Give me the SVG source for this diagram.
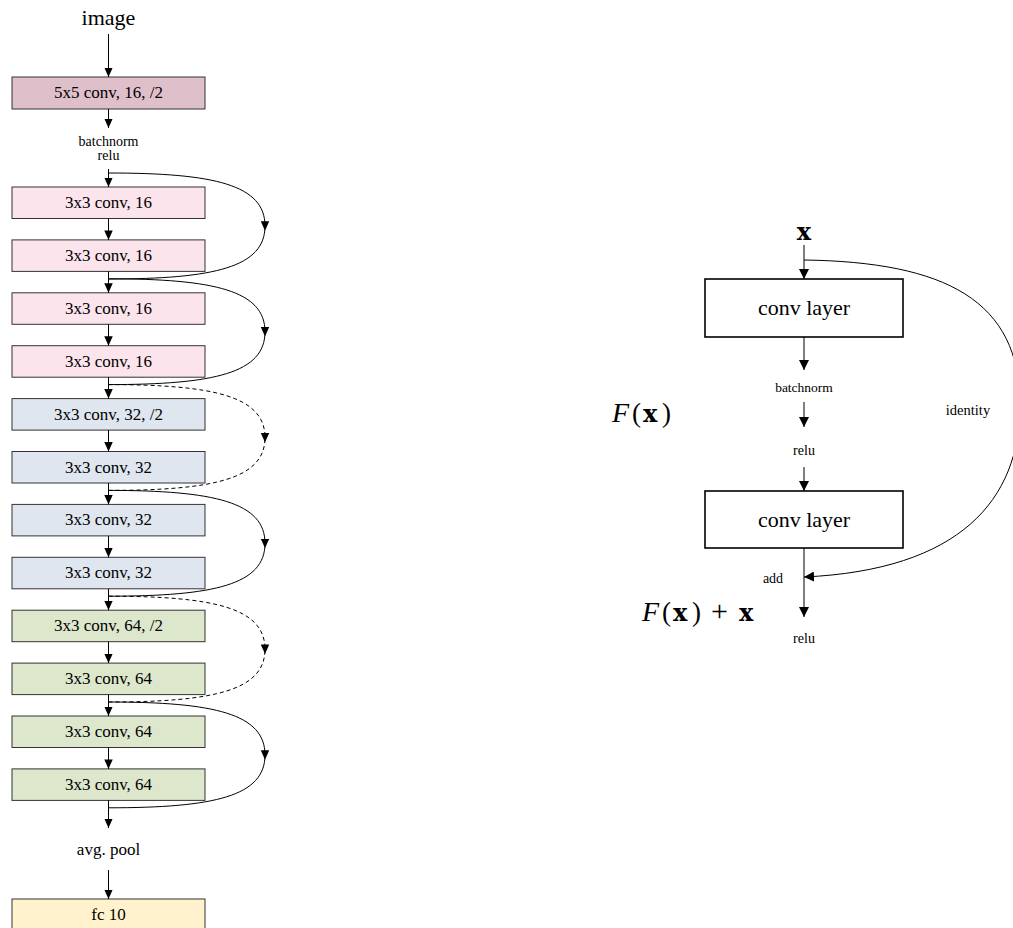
<svg xmlns="http://www.w3.org/2000/svg" width="1013" height="928" viewBox="0 0 1013 928">
  <style>
    .lbl { font-family: "Liberation Serif", "Times New Roman", serif; fill: #000; text-anchor: middle; }
    .box { stroke: #333; stroke-width: 1; }
    .c5 { fill: #dfbfca; }
    .pk { fill: #fbe4ec; }
    .bl { fill: #dfe6ef; }
    .gr { fill: #dce7cc; }
    .yl { fill: #fff2cc; }
    .ln { fill: none; stroke: #000; stroke-width: 1; }
    .arr { marker-end: url(#ah); }
    .skip { fill: none; stroke: #000; stroke-width: 1; marker-mid: url(#ahm); }
    .dash { stroke-dasharray: 4 3; }
    .rbox { fill: #fff; stroke: #000; stroke-width: 1.6; }
    .rarr { marker-end: url(#ahr); }
    .math { font-family: "Liberation Serif", "Times New Roman", serif; font-size: 27px; fill: #000; }
    .it { font-style: italic; font-size: 28px; }
    .mb { font-family: "DejaVu Serif", serif; font-weight: bold; font-size: 24px; }
    .op { font-size: 30px; }
  </style>
  <defs>
    <marker id="ah" viewBox="0 0 10 10" refX="10" refY="5" markerWidth="9.5" markerHeight="8.5" markerUnits="userSpaceOnUse" orient="auto" preserveAspectRatio="none">
      <path d="M0,0 L10,5 L0,10 Z" fill="#000"/>
    </marker>
    <marker id="ahm" viewBox="0 0 10 10" refX="5" refY="5" markerWidth="9.5" markerHeight="8.5" markerUnits="userSpaceOnUse" orient="auto" preserveAspectRatio="none">
      <path d="M0,0 L10,5 L0,10 Z" fill="#000"/>
    </marker>
    <marker id="ahr" viewBox="0 0 10 10" refX="10" refY="5" markerWidth="10" markerHeight="10" markerUnits="userSpaceOnUse" orient="auto" preserveAspectRatio="none">
      <path d="M0,0 L10,5 L0,10 Z" fill="#000"/>
    </marker>
  </defs>

  <!-- ===== ResNet stack (left) ===== -->
  <g id="image-label"><text class="lbl" x="108.5" y="25" font-size="22">image</text></g>

  <g id="conv5x5">
    <rect class="box c5" x="12" y="77" width="193" height="32"/>
    <text class="lbl" x="108.5" y="98" font-size="17">5x5 conv, 16, /2</text>
  </g>
  <g id="bn-relu">
    <text class="lbl" x="108.5" y="146" font-size="14">batchnorm</text>
    <text class="lbl" x="108.5" y="160" font-size="14">relu</text>
  </g>

  <g id="conv16-a"><rect class="box pk" x="12" y="187" width="193" height="31.5"/><text class="lbl" x="108.5" y="208" font-size="17">3x3 conv, 16</text></g>
  <g id="conv16-b"><rect class="box pk" x="12" y="239.9" width="193" height="31.5"/><text class="lbl" x="108.5" y="260.9" font-size="17">3x3 conv, 16</text></g>
  <g id="conv16-c"><rect class="box pk" x="12" y="292.8" width="193" height="31.5"/><text class="lbl" x="108.5" y="313.8" font-size="17">3x3 conv, 16</text></g>
  <g id="conv16-d"><rect class="box pk" x="12" y="345.7" width="193" height="31.5"/><text class="lbl" x="108.5" y="366.7" font-size="17">3x3 conv, 16</text></g>
  <g id="conv32-a"><rect class="box bl" x="12" y="398.6" width="193" height="31.5"/><text class="lbl" x="108.5" y="419.6" font-size="17">3x3 conv, 32, /2</text></g>
  <g id="conv32-b"><rect class="box bl" x="12" y="451.5" width="193" height="31.5"/><text class="lbl" x="108.5" y="472.5" font-size="17">3x3 conv, 32</text></g>
  <g id="conv32-c"><rect class="box bl" x="12" y="504.4" width="193" height="31.5"/><text class="lbl" x="108.5" y="525.4" font-size="17">3x3 conv, 32</text></g>
  <g id="conv32-d"><rect class="box bl" x="12" y="557.3" width="193" height="31.5"/><text class="lbl" x="108.5" y="578.3" font-size="17">3x3 conv, 32</text></g>
  <g id="conv64-a"><rect class="box gr" x="12" y="610.2" width="193" height="31.5"/><text class="lbl" x="108.5" y="631.2" font-size="17">3x3 conv, 64, /2</text></g>
  <g id="conv64-b"><rect class="box gr" x="12" y="663.1" width="193" height="31.5"/><text class="lbl" x="108.5" y="684.1" font-size="17">3x3 conv, 64</text></g>
  <g id="conv64-c"><rect class="box gr" x="12" y="716" width="193" height="31.5"/><text class="lbl" x="108.5" y="737" font-size="17">3x3 conv, 64</text></g>
  <g id="conv64-d"><rect class="box gr" x="12" y="768.9" width="193" height="31.5"/><text class="lbl" x="108.5" y="789.9" font-size="17">3x3 conv, 64</text></g>

  <g id="avg-pool"><text class="lbl" x="108.5" y="855" font-size="17">avg. pool</text></g>
  <g id="fc10">
    <rect class="box yl" x="12" y="899" width="193" height="32"/>
    <text class="lbl" x="108.5" y="920" font-size="17">fc 10</text>
  </g>

  <g id="stack-connectors">
    <line class="ln arr" x1="108.5" y1="34" x2="108.5" y2="77"/>
    <line class="ln arr" x1="108.5" y1="109" x2="108.5" y2="128"/>
    <line class="ln arr" x1="108.5" y1="169" x2="108.5" y2="187"/>
    <line class="ln arr" x1="108.5" y1="218.5" x2="108.5" y2="239.9"/>
    <line class="ln arr" x1="108.5" y1="271.4" x2="108.5" y2="292.8"/>
    <line class="ln arr" x1="108.5" y1="324.3" x2="108.5" y2="345.7"/>
    <line class="ln arr" x1="108.5" y1="377.2" x2="108.5" y2="398.6"/>
    <line class="ln arr" x1="108.5" y1="430.1" x2="108.5" y2="451.5"/>
    <line class="ln arr" x1="108.5" y1="483" x2="108.5" y2="504.4"/>
    <line class="ln arr" x1="108.5" y1="535.9" x2="108.5" y2="557.3"/>
    <line class="ln arr" x1="108.5" y1="588.8" x2="108.5" y2="610.2"/>
    <line class="ln arr" x1="108.5" y1="641.7" x2="108.5" y2="663.1"/>
    <line class="ln arr" x1="108.5" y1="694.6" x2="108.5" y2="716"/>
    <line class="ln arr" x1="108.5" y1="747.5" x2="108.5" y2="768.9"/>
    <line class="ln arr" x1="108.5" y1="800.4" x2="108.5" y2="828"/>
    <line class="ln arr" x1="108.5" y1="870" x2="108.5" y2="899"/>

    <!-- shortcut connections, one per residual block -->
    <path class="skip" d="M108.5,173 C215,173 265,185 265,226 C265,267 215,279 108.5,279"/>
    <path class="skip" d="M108.5,278.8 C215,278.8 265,290.8 265,331.8 C265,372.8 215,384.6 108.5,384.6"/>
    <path class="skip dash" d="M108.5,384.6 C215,384.6 265,396.6 265,437.6 C265,478.6 215,490.4 108.5,490.4"/>
    <path class="skip" d="M108.5,490.4 C215,490.4 265,502.4 265,543.4 C265,584.4 215,596.2 108.5,596.2"/>
    <path class="skip dash" d="M108.5,596.2 C215,596.2 265,608.2 265,649.2 C265,690.2 215,702 108.5,702"/>
    <path class="skip" d="M108.5,702 C215,702 265,714 265,755 C265,796 215,807.8 108.5,807.8"/>
  </g>

  <!-- ===== Residual block (right) ===== -->
  <g id="input-x"><text class="mb" x="804" y="240" text-anchor="middle">x</text></g>
  <g id="conv-layer-1">
    <rect class="rbox" x="705" y="279" width="198" height="58"/>
    <text class="lbl" x="804" y="315" font-size="22">conv layer</text>
  </g>
  <g id="bn-label"><text class="lbl" x="804" y="392" font-size="13.5">batchnorm</text></g>
  <g id="relu-label"><text class="lbl" x="804" y="455" font-size="14">relu</text></g>
  <g id="conv-layer-2">
    <rect class="rbox" x="705" y="491" width="198" height="57"/>
    <text class="lbl" x="804" y="527" font-size="22">conv layer</text>
  </g>
  <g id="add-label"><text class="lbl" x="773" y="583" font-size="14">add</text></g>
  <g id="out-relu-label"><text class="lbl" x="804" y="643" font-size="14">relu</text></g>
  <g id="identity-label"><text class="lbl" x="968" y="415" font-size="14.5">identity</text></g>

  <!-- math labels: glyphs placed one by one -->
  <g id="fx-label">
    <text class="math" y="422"><tspan class="it" x="612">F</tspan><tspan x="632">(</tspan><tspan class="mb" x="643">x</tspan><tspan x="662">)</tspan></text>
  </g>
  <g id="fx-plus-x-label">
    <text class="math" y="621"><tspan class="it" x="642">F</tspan><tspan x="662">(</tspan><tspan class="mb" x="673">x</tspan><tspan x="692">)</tspan><tspan class="op" x="711">+</tspan><tspan class="mb" x="739">x</tspan></text>
  </g>

  <g id="block-connectors">
    <line class="ln rarr" x1="804" y1="245" x2="804" y2="279"/>
    <line class="ln rarr" x1="804" y1="337" x2="804" y2="370"/>
    <line class="ln rarr" x1="804" y1="402" x2="804" y2="427"/>
    <line class="ln rarr" x1="804" y1="467" x2="804" y2="491"/>
    <line class="ln rarr" x1="804" y1="548" x2="804" y2="617"/>
    <path class="ln rarr" d="M804,260 C945,262 1020,300 1020,405 C1020,500 960,570 804,577"/>
  </g>
</svg>
